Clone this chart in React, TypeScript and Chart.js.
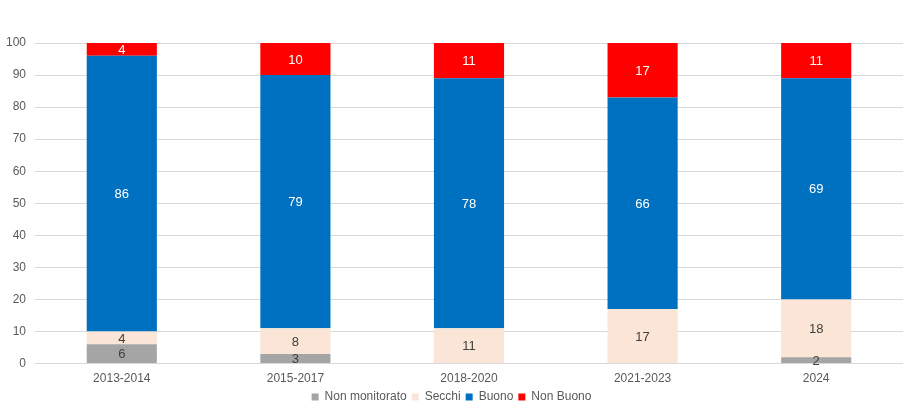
import React, { useEffect, useRef } from "react";
import { Chart, registerables } from "chart.js";

Chart.register(...registerables);

const categories = ["2013-2014", "2015-2017", "2018-2020", "2021-2023", "2024"];
const nonMonitorato = [6, 3, 0, 0, 2];
const secchi = [4, 8, 11, 17, 18];
const buono = [86, 79, 78, 66, 69];
const nonBuono = [4, 10, 11, 17, 11];
const yTicks = [0, 10, 20, 30, 40, 50, 60, 70, 80, 90, 100];

const FONT = "'Liberation Sans', Arial, sans-serif";

const labelPlugin = {
  id: "segLabels",
  afterDatasetsDraw(chart: any) {
    const ctx = chart.ctx;
    ctx.save();
    ctx.font = `13px ${FONT}`;
    ctx.textAlign = "center";
    ctx.textBaseline = "middle";
    chart.data.datasets.forEach((ds: any, di: number) => {
      const meta = chart.getDatasetMeta(di);
      if (meta.hidden) return;
      meta.data.forEach((bar: any, i: number) => {
        const v = ds.data[i];
        if (!v) return;
        const y = (bar.y + bar.base) / 2;
        ctx.fillStyle = ds.labelColor;
        ctx.fillText(String(v), bar.x, y + 1);
      });
    });
    ctx.restore();
  },
};

export default function App() {
  const ref = useRef<HTMLCanvasElement>(null);
  useEffect(() => {
    document.body.style.margin = "0";
    const chart = new Chart(ref.current!, {
      type: "bar",
      data: {
        labels: categories,
        datasets: [
          { label: "Non monitorato", data: nonMonitorato, backgroundColor: "#A5A5A5", labelColor: "#404040" } as any,
          { label: "Secchi", data: secchi, backgroundColor: "#FBE5D6", labelColor: "#404040" } as any,
          { label: "Buono", data: buono, backgroundColor: "#0070C0", labelColor: "#FFFFFF" } as any,
          { label: "Non Buono", data: nonBuono, backgroundColor: "#FF0000", labelColor: "#FFFFFF" } as any,
        ],
      },
      options: {
        animation: false,
        responsive: false,
        maintainAspectRatio: false,
        layout: { padding: { top: 43, right: 9, left: 0, bottom: 0 } },
        datasets: { bar: { barPercentage: 1, categoryPercentage: 0.404, borderWidth: 0 } },
        scales: {
          x: {
            stacked: true,
            grid: { display: false },
            border: { display: false },
            ticks: { color: "#595959", font: { family: FONT, size: 12 }, padding: 0 },
          },
          y: {
            stacked: true,
            min: 0,
            max: 100,
            afterBuildTicks: (axis: any) => {
              axis.ticks = yTicks.map((v) => ({ value: v }));
            },
            afterFit: (axis: any) => {
              axis.width = 35;
            },
            grid: { color: "#D9D9D9", drawTicks: false },
            border: { display: false },
            ticks: { color: "#595959", font: { family: FONT, size: 12 }, padding: 9 },
          },
        },
        plugins: {
          tooltip: { enabled: false },
          legend: {
            position: "bottom",
            labels: {
              boxWidth: 7,
              boxHeight: 7,
              padding: 5,
              color: "#595959",
              font: { family: FONT, size: 12 },
            },
          },
        },
      },
      plugins: [labelPlugin],
    });
    return () => chart.destroy();
  }, []);
  return <canvas ref={ref} width={912} height={413} style={{ display: "block" }} />;
}
